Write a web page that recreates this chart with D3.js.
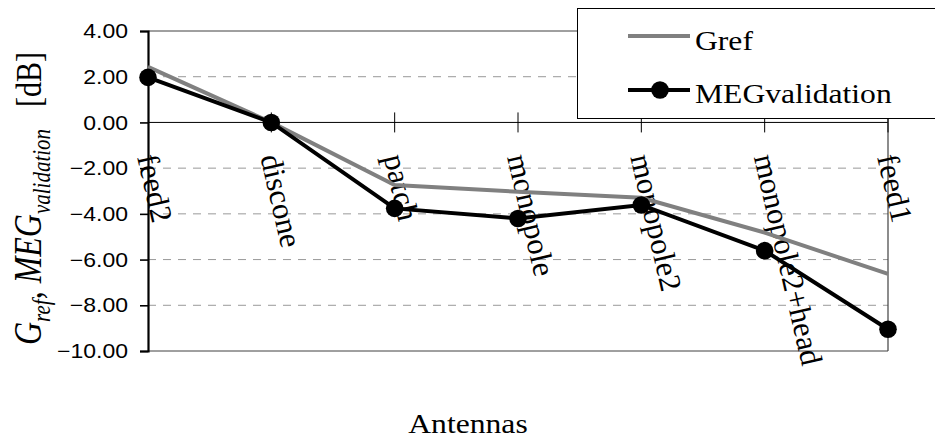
<!DOCTYPE html>
<html>
<head>
	<title>Gref vs MEG validation</title>
	<script src="https://d3js.org/d3.v7.min.js" charset="utf-8"></script>
	<style>
		body { margin: 0; background: #fff; }
		svg { display: block; }
	</style>
</head>
<body>
	<svg width="935" height="438"></svg>
	<script>
		// data
		const antennas = ['feed2', 'discone', 'patch', 'monopole', 'monopole2', 'monopole2+head', 'feed1'];
		const gref = [2.43, 0.0, -2.74, -3.03, -3.30, -4.82, -6.63];
		const megValidation = [1.97, 0.0, -3.76, -4.20, -3.61, -5.61, -9.05];
		const yTicks = [4, 2, 0, -2, -4, -6, -8, -10];

		const svg = d3.select('svg');
		const serif = '"Liberation Serif", "Times New Roman", serif';
		const sans = '"Liberation Sans", Arial, sans-serif';

		const x = d3.scalePoint()
			.domain(antennas)
			.range([148, 888]);

		const y = d3.scaleLinear()
			.domain([-10, 4])
			.range([351, 31]);

		// gridlines
		const grid = svg.append('g');
		grid.selectAll('line')
			.data(yTicks)
			.enter()
			.append('line')
			.attr('x1', x.range()[0])
			.attr('x2', x.range()[1])
			.attr('y1', d => y(d))
			.attr('y2', d => y(d))
			.attr('stroke', d => (d === 4 || d === -10) ? '#404040' : (d === 0 ? '#000' : '#999'))
			.attr('stroke-width', 1)
			.attr('stroke-dasharray', d => (d === 4 || d === -10 || d === 0) ? null : '8,7');

		// right border of plot area
		svg.append('line')
			.attr('x1', x.range()[1]).attr('x2', x.range()[1])
			.attr('y1', y(4)).attr('y2', y(-10))
			.attr('stroke', '#404040')
			.attr('stroke-width', 1.2);

		// y axis
		const yAxis = svg.append('g')
			.attr('transform', `translate(${x.range()[0]},0)`)
			.call(d3.axisLeft(y).tickValues(yTicks).tickSize(8).tickFormat(''));
		yAxis.select('.domain').attr('stroke', '#000').attr('stroke-width', 2.2);
		yAxis.selectAll('.tick line').attr('stroke', '#000').attr('stroke-width', 1.6);

		svg.append('g').selectAll('text')
			.data(yTicks)
			.enter()
			.append('text')
			.attr('transform', d => `translate(128,${y(d)}) scale(1.15,1)`)
			.attr('text-anchor', 'end')
			.attr('dy', '0.36em')
			.style('font-family', sans)
			.style('font-size', '20px')
			.text(d => d3.format('.2f')(d));

		// category axis crossing at 0
		svg.append('g').selectAll('line')
			.data(antennas.slice(1))
			.enter()
			.append('line')
			.attr('x1', d => x(d)).attr('x2', d => x(d))
			.attr('y1', y(0) - 10).attr('y2', y(0) + 10)
			.attr('stroke', '#000')
			.attr('stroke-width', 1);

		// category labels
		svg.append('g').selectAll('text')
			.data(antennas)
			.enter()
			.append('text')
			.attr('transform', d => `translate(${x(d) - 11},157) rotate(77)`)
			.style('font-family', serif)
			.style('font-size', '31px')
			.text(d => d);

		// series
		const line = d3.line()
			.x((d, i) => x(antennas[i]))
			.y(d => y(d));

		svg.append('path')
			.datum(gref)
			.attr('d', line)
			.attr('fill', 'none')
			.attr('stroke', '#808080')
			.attr('stroke-width', 4);

		svg.append('path')
			.datum(megValidation)
			.attr('d', line)
			.attr('fill', 'none')
			.attr('stroke', '#000')
			.attr('stroke-width', 4);

		svg.append('g').selectAll('circle')
			.data(megValidation)
			.enter()
			.append('circle')
			.attr('cx', (d, i) => x(antennas[i]))
			.attr('cy', d => y(d))
			.attr('r', 8.8)
			.attr('fill', '#000');

		// legend
		const legend = svg.append('g');
		legend.append('rect')
			.attr('x', 577.5).attr('y', 8.5)
			.attr('width', 400).attr('height', 110)
			.attr('fill', '#fff')
			.attr('stroke', '#000')
			.attr('stroke-width', 1);
		legend.append('line')
			.attr('x1', 628).attr('x2', 690)
			.attr('y1', 36).attr('y2', 36)
			.attr('stroke', '#808080').attr('stroke-width', 4);
		legend.append('line')
			.attr('x1', 628).attr('x2', 690)
			.attr('y1', 90).attr('y2', 90)
			.attr('stroke', '#000').attr('stroke-width', 4);
		legend.append('circle')
			.attr('cx', 660).attr('cy', 90).attr('r', 8.8)
			.attr('fill', '#000');
		legend.selectAll('text')
			.data([['Gref', 50], ['MEGvalidation', 103]])
			.enter()
			.append('text')
			.attr('transform', d => `translate(695,${d[1]}) scale(1.13,1)`)
			.style('font-family', serif)
			.style('font-size', '28px')
			.text(d => d[0]);

		// x axis title
		svg.append('text')
			.attr('transform', 'translate(468,433) scale(1.13,1)')
			.attr('text-anchor', 'middle')
			.style('font-family', serif)
			.style('font-size', '28px')
			.text('Antennas');

		// y axis title with subscripts
		const yTitle = svg.append('text')
			.attr('transform', 'translate(41,345) scale(1.22,1) rotate(-90)')
			.attr('text-anchor', 'start')
			.style('font-family', serif)
			.style('font-size', '32px');
		yTitle.append('tspan').style('font-style', 'italic').text('G');
		yTitle.append('tspan').style('font-style', 'italic').style('font-size', '21px').attr('dy', 7).text('ref');
		yTitle.append('tspan').attr('dy', -7).text(', ');
		yTitle.append('tspan').style('font-style', 'italic').text('MEG');
		yTitle.append('tspan').style('font-style', 'italic').style('font-size', '21px').attr('dy', 7).text('validation');
		yTitle.append('tspan').attr('dy', -7).attr('dx', 22).style('font-size', '30px').text('[dB]');
	</script>
</body>
</html>
